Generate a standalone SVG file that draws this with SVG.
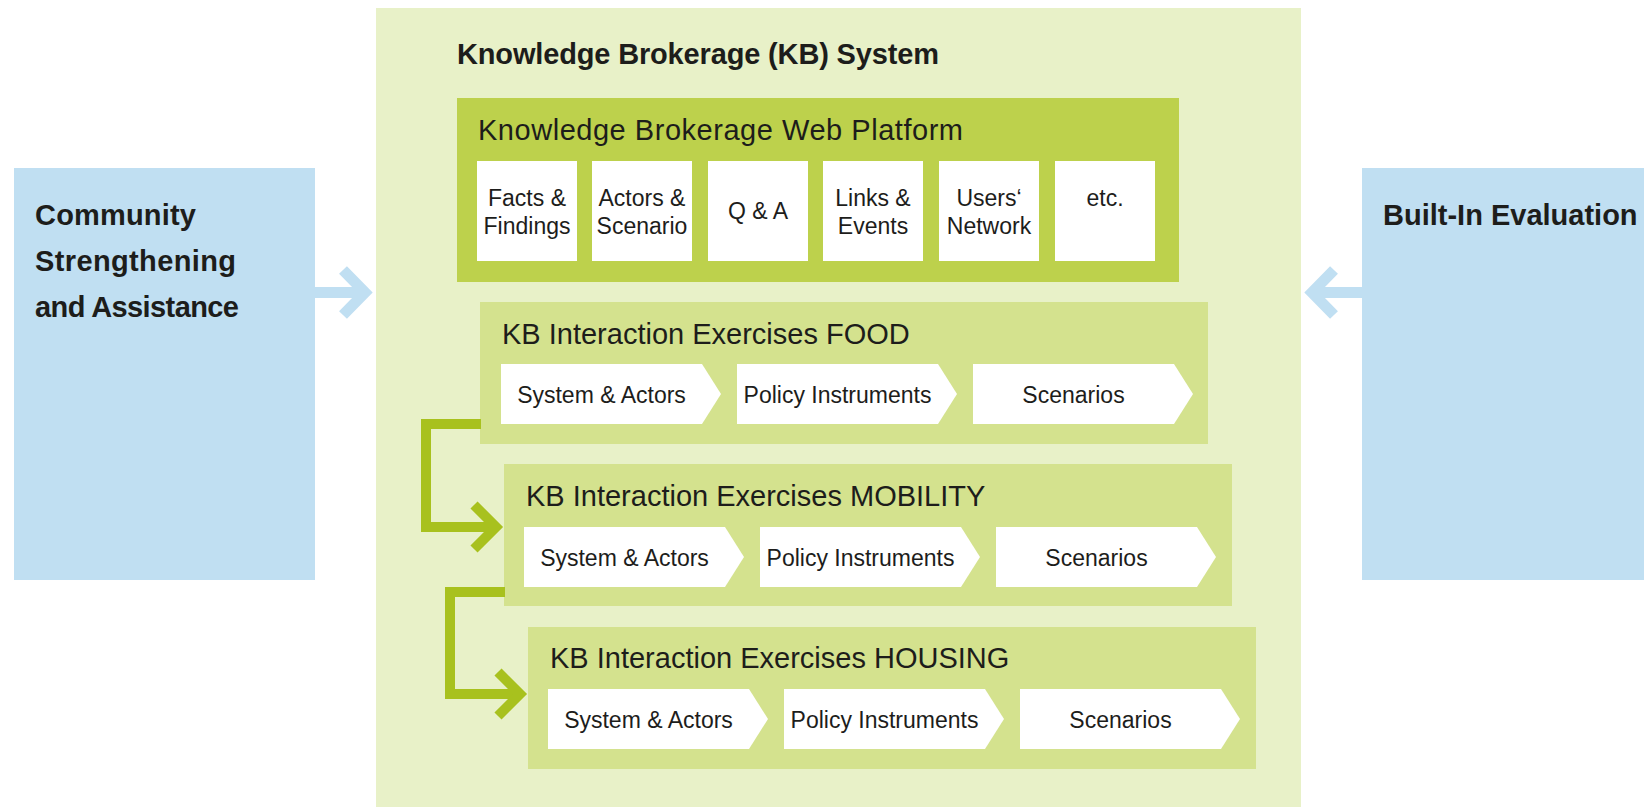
<svg xmlns="http://www.w3.org/2000/svg" width="1644" height="808" viewBox="0 0 1644 808">
<style>
text{font-family:"Liberation Sans",Arial,sans-serif;fill:#1d1d1b}
.bold{font-weight:bold;font-size:29px}
.title{font-size:29px}
.item{font-size:23px;text-anchor:middle}
.side{fill:#c0dff2}
.outer{fill:#e8f1c8}
.web{fill:#bdd14c}
.ex{fill:#d4e28e}
.white{fill:#ffffff}
.blueArrow{fill:none;stroke:#c0dff2;stroke-width:11;stroke-linejoin:miter}
.greenArrow{fill:none;stroke:#a8c11e;stroke-width:10;stroke-linejoin:miter}
</style>
<defs>
<path id="chev" d="M0,0 H201 L220,30 L201,60 H0 Z"/>
</defs>
<rect width="1644" height="808" fill="#ffffff"/>

<g id="kb-system">
<rect class="outer" x="376" y="8" width="925" height="799"/>
<text class="bold" x="457" y="64" textLength="482">Knowledge Brokerage (KB) System</text>
</g>

<g id="community">
<rect class="side" x="14" y="168" width="301" height="412"/>
<text class="bold" x="35" y="225" textLength="161">Community</text>
<text class="bold" x="35" y="271" textLength="201">Strengthening</text>
<text class="bold" x="35" y="317" textLength="204">and Assistance</text>
</g>

<g id="evaluation">
<rect class="side" x="1362" y="168" width="282" height="412"/>
<text class="bold" x="1383" y="225">Built-In Evaluation</text>
</g>

<g id="web-platform">
<rect class="web" x="457" y="98" width="722" height="184"/>
<text class="title" x="478" y="140" textLength="485">Knowledge Brokerage Web Platform</text>
<rect class="white" x="477" y="161" width="100" height="100"/>
<text class="item" x="527" y="206">Facts &amp;</text>
<text class="item" x="527" y="234">Findings</text>
<rect class="white" x="592" y="161" width="100" height="100"/>
<text class="item" x="642" y="206">Actors &amp;</text>
<text class="item" x="642" y="234">Scenario</text>
<rect class="white" x="708" y="161" width="100" height="100"/>
<text class="item" x="758" y="219">Q &amp; A</text>
<rect class="white" x="823" y="161" width="100" height="100"/>
<text class="item" x="873" y="206">Links &amp;</text>
<text class="item" x="873" y="234">Events</text>
<rect class="white" x="939" y="161" width="100" height="100"/>
<text class="item" x="989" y="206">Users‘</text>
<text class="item" x="989" y="234">Network</text>
<rect class="white" x="1055" y="161" width="100" height="100"/>
<text class="item" x="1105" y="206">etc.</text>
</g>

<g id="ex-food" transform="translate(480,302)">
<rect class="ex" x="0" y="0" width="728" height="142"/>
<text class="title" x="22" y="42">KB Interaction Exercises FOOD</text>
<use href="#chev" class="white" x="21" y="62"/>
<text class="item" x="121.5" y="101">System &amp; Actors</text>
<use href="#chev" class="white" x="257" y="62"/>
<text class="item" x="357.5" y="101">Policy Instruments</text>
<use href="#chev" class="white" x="493" y="62"/>
<text class="item" x="593.5" y="101">Scenarios</text>
</g>

<g id="ex-mobility" transform="translate(504,464)">
<rect class="ex" x="0" y="0" width="728" height="142"/>
<text class="title" x="22" y="42">KB Interaction Exercises MOBILITY</text>
<use href="#chev" class="white" x="20" y="63"/>
<text class="item" x="120.5" y="102">System &amp; Actors</text>
<use href="#chev" class="white" x="256" y="63"/>
<text class="item" x="356.5" y="102">Policy Instruments</text>
<use href="#chev" class="white" x="492" y="63"/>
<text class="item" x="592.5" y="102">Scenarios</text>
</g>

<g id="ex-housing" transform="translate(528,627)">
<rect class="ex" x="0" y="0" width="728" height="142"/>
<text class="title" x="22" y="41">KB Interaction Exercises HOUSING</text>
<use href="#chev" class="white" x="20" y="62"/>
<text class="item" x="120.5" y="101">System &amp; Actors</text>
<use href="#chev" class="white" x="256" y="62"/>
<text class="item" x="356.5" y="101">Policy Instruments</text>
<use href="#chev" class="white" x="492" y="62"/>
<text class="item" x="592.5" y="101">Scenarios</text>
</g>

<g id="connectors">
<path class="blueArrow" d="M315,292.5 H364"/>
<polyline class="blueArrow" points="343,270 365,292.5 343,315"/>
<path class="blueArrow" d="M1362,292.5 H1313"/>
<polyline class="blueArrow" points="1334,270 1312,292.5 1334,315"/>
<path class="greenArrow" d="M481,424 H426 V527 H496"/>
<polyline class="greenArrow" points="474,505 496,527 474,549"/>
<path class="greenArrow" d="M505,592 H450 V694 H520"/>
<polyline class="greenArrow" points="498,672 520,694 498,716"/>
</g>
</svg>
